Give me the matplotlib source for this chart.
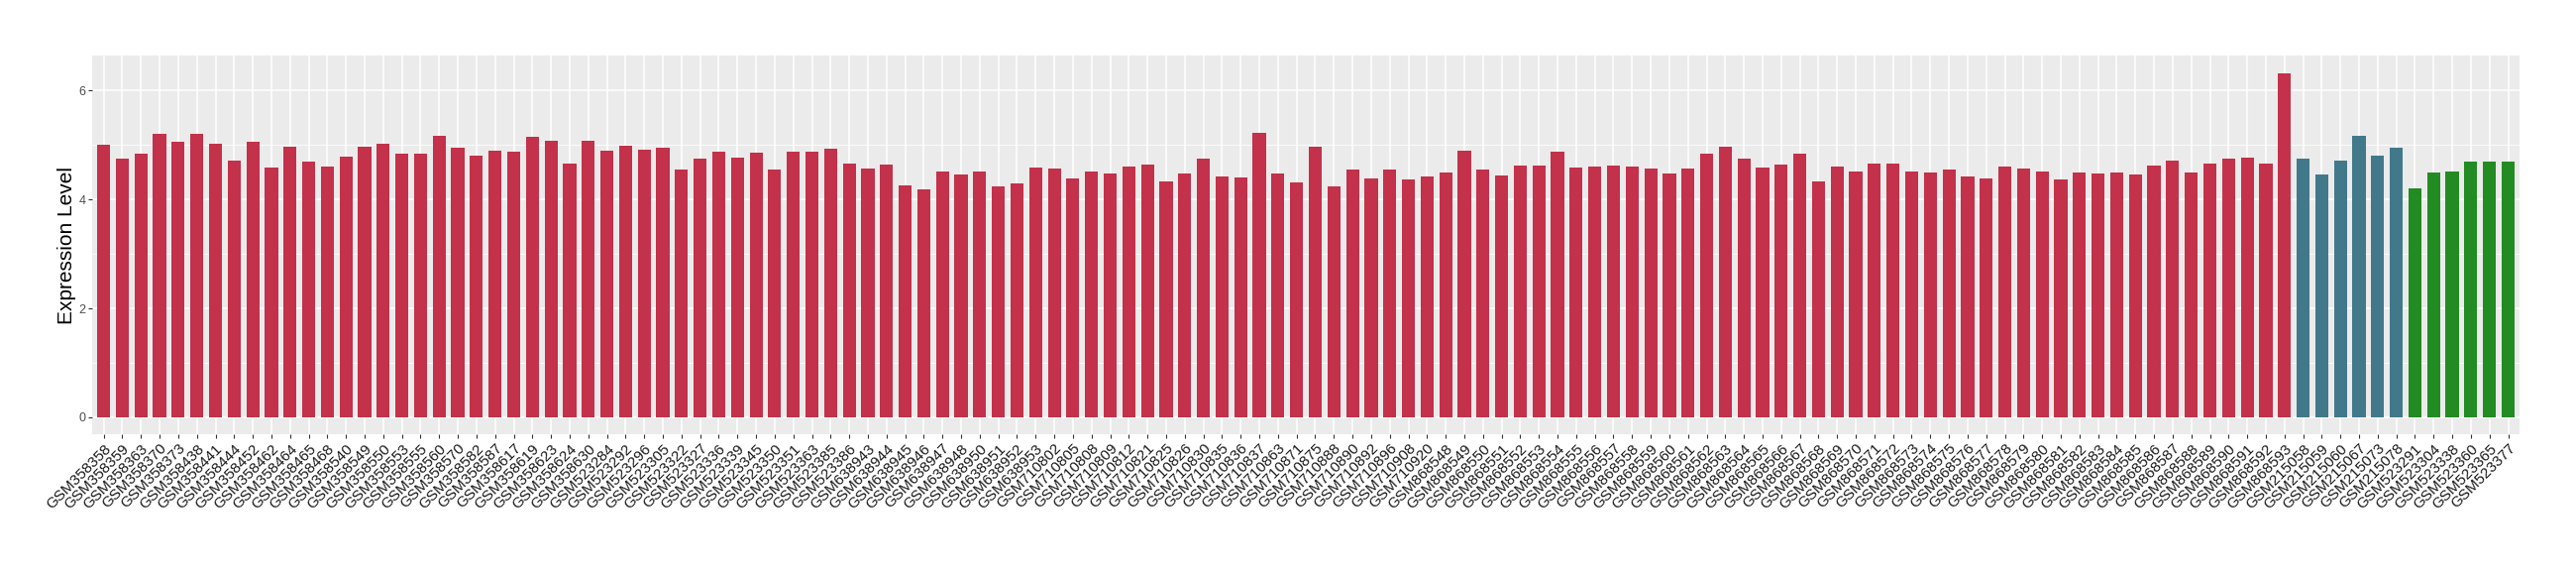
import matplotlib
matplotlib.use("Agg")
import matplotlib.pyplot as plt
from matplotlib.ticker import MultipleLocator

plt.rcParams['font.family'] = ['Liberation Sans', 'DejaVu Sans']

samples = [
    'GSM358358', 'GSM358359', 'GSM358363', 'GSM358370', 'GSM358373', 'GSM358438', 'GSM358441',
    'GSM358444', 'GSM358452', 'GSM358462', 'GSM358464', 'GSM358465', 'GSM358468', 'GSM358540',
    'GSM358549', 'GSM358550', 'GSM358553', 'GSM358555', 'GSM358560', 'GSM358570', 'GSM358582',
    'GSM358587', 'GSM358617', 'GSM358619', 'GSM358623', 'GSM358624', 'GSM358630', 'GSM523284',
    'GSM523292', 'GSM523296', 'GSM523305', 'GSM523322', 'GSM523327', 'GSM523336', 'GSM523339',
    'GSM523345', 'GSM523350', 'GSM523351', 'GSM523363', 'GSM523385', 'GSM523386', 'GSM638943',
    'GSM638944', 'GSM638945', 'GSM638946', 'GSM638947', 'GSM638948', 'GSM638950', 'GSM638951',
    'GSM638952', 'GSM638953', 'GSM710802', 'GSM710805', 'GSM710808', 'GSM710809', 'GSM710812',
    'GSM710821', 'GSM710825', 'GSM710826', 'GSM710830', 'GSM710835', 'GSM710836', 'GSM710837',
    'GSM710863', 'GSM710871', 'GSM710875', 'GSM710888', 'GSM710890', 'GSM710892', 'GSM710896',
    'GSM710908', 'GSM710920', 'GSM868548', 'GSM868549', 'GSM868550', 'GSM868551', 'GSM868552',
    'GSM868553', 'GSM868554', 'GSM868555', 'GSM868556', 'GSM868557', 'GSM868558', 'GSM868559',
    'GSM868560', 'GSM868561', 'GSM868562', 'GSM868563', 'GSM868564', 'GSM868565', 'GSM868566',
    'GSM868567', 'GSM868568', 'GSM868569', 'GSM868570', 'GSM868571', 'GSM868572', 'GSM868573',
    'GSM868574', 'GSM868575', 'GSM868576', 'GSM868577', 'GSM868578', 'GSM868579', 'GSM868580',
    'GSM868581', 'GSM868582', 'GSM868583', 'GSM868584', 'GSM868585', 'GSM868586', 'GSM868587',
    'GSM868588', 'GSM868589', 'GSM868590', 'GSM868591', 'GSM868592', 'GSM868593',
    'GSM215058', 'GSM215059', 'GSM215060', 'GSM215067', 'GSM215073', 'GSM215078',
    'GSM523291', 'GSM523304', 'GSM523338', 'GSM523360', 'GSM523365', 'GSM523377',
]

expression = [
    5.00, 4.75, 4.84, 5.21, 5.05, 5.20, 5.03, 4.72, 5.05, 4.58, 4.97, 4.70, 4.60, 4.79,
    4.97, 5.02, 4.83, 4.83, 5.16, 4.95, 4.81, 4.89, 4.88, 5.14, 5.07, 4.66, 5.07, 4.89,
    4.99, 4.91, 4.95, 4.54, 4.74, 4.88, 4.77, 4.86, 4.54, 4.88, 4.88, 4.93, 4.66, 4.56,
    4.63, 4.26, 4.19, 4.52, 4.46, 4.51, 4.24, 4.29, 4.58, 4.56, 4.38, 4.51, 4.47, 4.60,
    4.63, 4.33, 4.47, 4.74, 4.42, 4.40, 5.23, 4.47, 4.31, 4.97, 4.24, 4.54, 4.38, 4.54,
    4.37, 4.42, 4.49, 4.89, 4.54, 4.44, 4.62, 4.62, 4.88, 4.58, 4.60, 4.62, 4.60, 4.56,
    4.47, 4.56, 4.83, 4.97, 4.75, 4.58, 4.63, 4.83, 4.33, 4.60, 4.51, 4.65, 4.66, 4.51,
    4.49, 4.54, 4.42, 4.38, 4.60, 4.56, 4.52, 4.37, 4.49, 4.47, 4.49, 4.46, 4.62, 4.72,
    4.49, 4.66, 4.74, 4.77, 4.65, 6.32,
    4.74, 4.46, 4.72, 5.16, 4.81, 4.95,
    4.21, 4.49, 4.51, 4.70, 4.70, 4.70,
]

group_sizes = [118, 6, 6]
group_colors = ['#C3314A', '#41798B', '#228B22']

colors = []
for n, c in zip(group_sizes, group_colors):
    colors += [c] * n

fig = plt.figure(figsize=(26, 5.8), dpi=100)
ax = fig.add_axes([0.0359, 0.2443, 0.9421, 0.6591])
ax.set_facecolor('#EBEBEB')

x = range(len(samples))
ax.bar(x, expression, width=0.7, color=colors, zorder=3)

ax.set_xlim(-0.6, len(samples) - 0.4)
ax.set_ylim(-0.316, 6.64)
ax.yaxis.set_major_locator(MultipleLocator(2))
ax.yaxis.set_minor_locator(MultipleLocator(1))
ax.grid(which='major', color='white', linewidth=1.1, zorder=0)
ax.grid(which='minor', axis='y', color='white', linewidth=0.55, zorder=0)
for s in ax.spines.values():
    s.set_visible(False)

ax.set_xticks(list(x))
ax.set_xticklabels(samples, rotation=45, ha='right', va='top',
                   rotation_mode='anchor', fontsize=11)
ax.tick_params(axis='both', which='major', length=3, width=0.8, color='#333333',
               labelcolor='#4D4D4D', labelsize=9, pad=2)
ax.tick_params(axis='x', labelsize=11, labelcolor='#1A1A1A')
ax.tick_params(axis='y', which='minor', length=0)
ax.set_ylabel('Expression Level', fontsize=15, labelpad=2)

fig.savefig('out.png', dpi=100)
